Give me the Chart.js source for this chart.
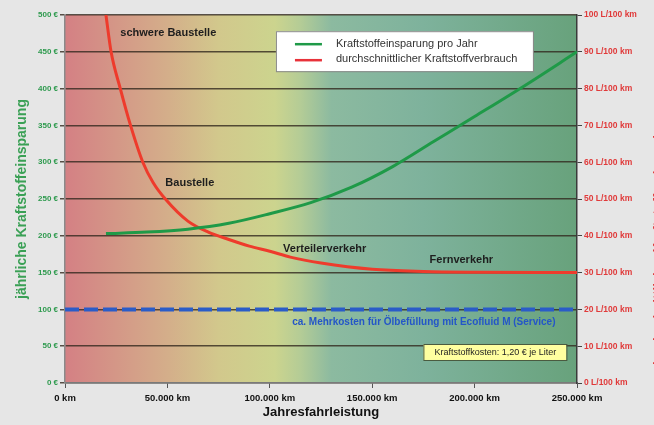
<!DOCTYPE html>
<html>
<head>
<meta charset="utf-8">
<script src="https://cdn.jsdelivr.net/npm/chart.js@4.4.1/dist/chart.umd.min.js"></script>
<style>
  body { margin: 0; background: #e6e6e6; overflow: hidden; }
  canvas { display: block; }
</style>
</head>
<body>
<canvas id="myChart" width="654" height="425"></canvas>
<script>
// Kraftstoffeinsparung pro Jahr (Euro), x in km
const savingKm = [20000, 40000, 60000, 80000, 100000, 120000, 140000, 160000, 180000, 200000, 225000, 250000];
const savingEuro = [203, 205, 209, 217, 230, 245, 266, 294, 328, 362, 405, 450];

// durchschnittlicher Kraftstoffverbrauch (L/100 km)
const consumptionKm = [20000, 22500, 27000, 32000, 38000, 43000, 49000, 60000, 70000, 80000, 90000, 100000, 110000, 125000, 150000, 175000, 200000, 250000];
const consumptionL = [100, 90, 80, 70, 60, 54.5, 50, 44, 41, 39, 37.2, 35.8, 34.2, 32.6, 30.9, 30.3, 30.1, 30];

// Mehrkosten Ölbefüllung
const costKm = [0, 250000];
const costEuro = [100, 100];

const xTicks = [0, 50000, 100000, 150000, 200000, 250000];

const labels = [
	{ text: 'schwere Baustelle', x: 27000, y: 476 },
	{ text: 'Baustelle', x: 49000, y: 272 },
	{ text: 'Verteilerverkehr', x: 106500, y: 182 },
	{ text: 'Fernverkehr', x: 178000, y: 167 }
];

const toPoints = (xs, ys) => xs.map((x, i) => ({ x: x, y: ys[i] }));
const dotted = v => String(v).replace(/\B(?=(\d{3})+(?!\d))/g, '.');
const fam = '"Liberation Sans", Arial, sans-serif';

const backgroundPlugin = {
	id: 'background',
	beforeDraw(chart) {
		const { ctx, chartArea: a } = chart;
		ctx.save();
		ctx.fillStyle = '#e6e6e6';
		ctx.fillRect(0, 0, chart.width, chart.height);
		const g = ctx.createLinearGradient(a.left, 0, a.right, 0);
		g.addColorStop(0, 'rgb(212,128,132)');
		g.addColorStop(0.2, 'rgb(212,174,138)');
		g.addColorStop(0.3, 'rgb(210,200,140)');
		g.addColorStop(0.41, 'rgb(204,212,142)');
		g.addColorStop(0.46, 'rgb(180,204,150)');
		g.addColorStop(0.52, 'rgb(140,186,160)');
		g.addColorStop(0.7, 'rgb(126,178,156)');
		g.addColorStop(1, 'rgb(104,162,124)');
		ctx.fillStyle = g;
		ctx.fillRect(a.left, a.top, a.right - a.left, a.bottom - a.top);
		ctx.restore();
	}
};

const notesPlugin = {
	id: 'notes',
	afterDraw(chart) {
		const { ctx } = chart;
		const xs = chart.scales.x, ys = chart.scales.y;
		ctx.save();
		ctx.textBaseline = 'middle';

		// region labels
		ctx.fillStyle = '#1e1e1e';
		ctx.font = 'bold 11px ' + fam;
		ctx.textAlign = 'left';
		labels.forEach(l => ctx.fillText(l.text, xs.getPixelForValue(l.x), ys.getPixelForValue(l.y)));

		// blue note
		ctx.fillStyle = '#2456c8';
		ctx.font = 'bold 10px ' + fam;
		ctx.textAlign = 'right';
		ctx.fillText('ca. Mehrkosten für Ölbefüllung mit Ecofluid M (Service)', xs.getPixelForValue(239500), ys.getPixelForValue(83));

		// yellow box
		const bx = xs.getPixelForValue(175000), by = ys.getPixelForValue(53);
		ctx.fillStyle = '#ffffa0';
		ctx.strokeStyle = '#4a5a40';
		ctx.lineWidth = 1;
		ctx.fillRect(bx, by, 143, 16);
		ctx.strokeRect(bx + 0.5, by + 0.5, 143, 16);
		ctx.fillStyle = '#222';
		ctx.font = '9px ' + fam;
		ctx.textAlign = 'center';
		ctx.fillText('Kraftstoffkosten: 1,20 € je Liter', bx + 72, by + 9);

		// legend
		const lx = xs.getPixelForValue(103000), ly = ys.getPixelForValue(478);
		ctx.fillStyle = '#ffffff';
		ctx.strokeStyle = '#8a8a8a';
		ctx.fillRect(lx, ly, 257, 40);
		ctx.strokeRect(lx + 0.5, ly + 0.5, 257, 40);
		ctx.lineWidth = 2.5;
		ctx.strokeStyle = '#1f9a48';
		ctx.beginPath(); ctx.moveTo(lx + 19, ly + 13); ctx.lineTo(lx + 46, ly + 13); ctx.stroke();
		ctx.strokeStyle = '#e8323a';
		ctx.beginPath(); ctx.moveTo(lx + 19, ly + 29); ctx.lineTo(lx + 46, ly + 29); ctx.stroke();
		ctx.fillStyle = '#333';
		ctx.font = '11px ' + fam;
		ctx.textAlign = 'left';
		ctx.fillText('Kraftstoffeinsparung pro Jahr', lx + 60, ly + 13);
		ctx.fillText('durchschnittlicher Kraftstoffverbrauch', lx + 60, ly + 28);

		// right axis title, cut off at the edge
		ctx.translate(658, 250);
		ctx.rotate(-Math.PI / 2);
		ctx.fillStyle = '#e03a3a';
		ctx.font = 'bold 13px ' + fam;
		ctx.textAlign = 'center';
		ctx.fillText('durchschnittlicher Kraftstoffverbrauch', 0, 0);
		ctx.restore();
	}
};

const myChart = document.getElementById('myChart');

let lineChart = new Chart(myChart, {
	type: 'line',
	data: {
		datasets: [
			{
				label: 'Kraftstoffeinsparung pro Jahr',
				data: toPoints(savingKm, savingEuro),
				borderColor: '#1f9a48',
				borderWidth: 3,
				pointRadius: 0,
				cubicInterpolationMode: 'monotone',
				yAxisID: 'y'
			},
			{
				label: 'durchschnittlicher Kraftstoffverbrauch',
				data: toPoints(consumptionKm, consumptionL),
				borderColor: '#ee3b2c',
				borderWidth: 3,
				pointRadius: 0,
				cubicInterpolationMode: 'monotone',
				yAxisID: 'y1'
			},
			{
				label: 'Mehrkosten',
				data: toPoints(costKm, costEuro),
				borderColor: '#2a5cc8',
				borderWidth: 4,
				borderDash: [14, 5],
				pointRadius: 0,
				yAxisID: 'y'
			}
		]
	},
	options: {
		responsive: false,
		animation: false,
		devicePixelRatio: 1,
		layout: { padding: { top: 15, left: 0, right: 0, bottom: 0 } },
		plugins: {
			legend: { display: false },
			tooltip: { enabled: false }
		},
		scales: {
			x: {
				type: 'linear',
				min: 0,
				max: 250000,
				afterBuildTicks: s => { s.ticks = xTicks.map(v => ({ value: v })); },
				afterFit: s => { s.height = 42; },
				border: { color: '#7a7a7a', width: 1.5 },
				grid: { drawOnChartArea: false, color: '#555', tickLength: 5 },
				ticks: {
					color: '#111',
					font: { size: 9.5, weight: 'bold', family: fam },
					padding: 5,
					maxRotation: 0,
					callback: v => dotted(v) + ' km'
				},
				title: {
					display: true,
					text: 'Jahresfahrleistung',
					color: '#111',
					font: { size: 13, weight: 'bold', family: fam },
					padding: { top: 0, bottom: 5 }
				}
			},
			y: {
				position: 'left',
				min: 0,
				max: 500,
				afterFit: s => { s.width = 65; },
				border: { color: '#8a8a8a', width: 1.5 },
				grid: { color: 'rgba(50,40,30,0.8)', lineWidth: 1.5, tickLength: 5 },
				ticks: {
					stepSize: 50,
					color: '#2e9a4e',
					font: { size: 8, weight: 'bold', family: fam },
					padding: 2,
					callback: v => v + ' €'
				},
				title: {
					display: true,
					text: 'jährliche Kraftstoffeinsparung',
					color: '#3aa055',
					font: { size: 14, weight: 'bold', family: fam },
					padding: { top: 14, bottom: 0 }
				}
			},
			y1: {
				position: 'right',
				min: 0,
				max: 100,
				afterFit: s => { s.width = 77; },
				border: { color: '#3a3a3a', width: 1.5 },
				grid: { drawOnChartArea: false, color: '#444', tickLength: 5 },
				ticks: {
					stepSize: 10,
					color: '#e03a3a',
					font: { size: 8.5, weight: 'bold', family: fam },
					padding: 2,
					callback: v => v + ' L/100 km'
				}
			}
		}
	},
	plugins: [backgroundPlugin, notesPlugin]
});
</script>
</body>
</html>
